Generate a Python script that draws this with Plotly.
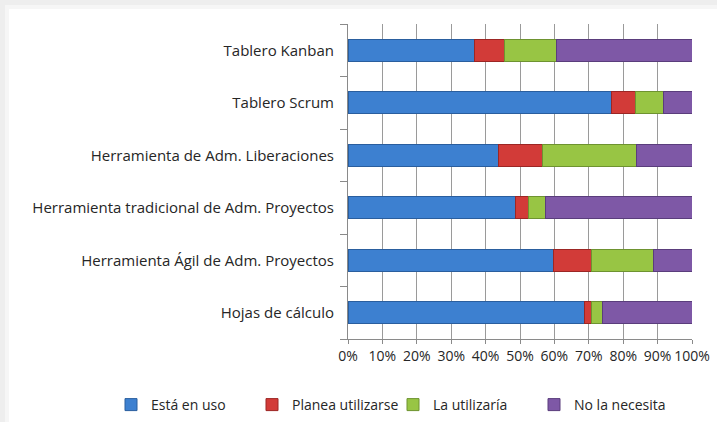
import plotly.graph_objects as go

categories = [
    "Hojas de cálculo",
    "Herramienta Ágil de Adm. Proyectos",
    "Herramienta tradicional de Adm. Proyectos",
    "Herramienta de Adm. Liberaciones",
    "Tablero Scrum",
    "Tablero Kanban",
]
esta_en_uso = [68.7, 59.6, 48.6, 43.8, 76.6, 36.7]
planea_utilizarse = [2.0, 11.1, 4.0, 12.6, 7.0, 8.9]
la_utilizaria = [3.2, 18.1, 4.9, 27.5, 8.0, 15.1]
no_la_necesita = [26.1, 11.2, 42.5, 16.1, 8.4, 39.3]

series_names = ["Está en uso", "Planea utilizarse", "La utilizaría", "No la necesita"]
series_values = [esta_en_uso, planea_utilizarse, la_utilizaria, no_la_necesita]
colors = ["#3D80D0", "#D23B38", "#98C544", "#7E58A6"]
line_colors = ["#2A5E9E", "#9C2624", "#6E9330", "#5A3D7C"]

tick_vals = [0, 10, 20, 30, 40, 50, 60, 70, 80, 90, 100]
tick_text = ["0%", "10%", "20%", "30%", "40%", "50%", "60%", "70%", "80%", "90%", "100%"]

fig = go.Figure()
for name, vals, c, lc in zip(series_names, series_values, colors, line_colors):
    fig.add_trace(go.Bar(
        y=categories, x=vals, name=name, orientation="h",
        marker=dict(color=c, line=dict(color=lc, width=1)),
    ))

W, H = 717, 422
L, R, T, B = 348, 25, 24, 83
pw, ph = W - L - R, H - T - B

def px_x(p):
    return (p - L) / pw

def px_y(p):
    return (H - B - p) / ph

shapes = [
    dict(type="rect", xref="paper", yref="paper", layer="below",
         x0=px_x(0), x1=px_x(9), y0=px_y(H), y1=px_y(0),
         fillcolor="#eeeeee", line_width=0),
    dict(type="rect", xref="paper", yref="paper", layer="below",
         x0=px_x(0), x1=px_x(W), y0=px_y(9), y1=px_y(0),
         fillcolor="#eeeeee", line_width=0),
    dict(type="rect", xref="paper", yref="paper", layer="below",
         x0=px_x(5), x1=px_x(9), y0=px_y(H), y1=px_y(5),
         fillcolor="#f6f6f6", line_width=0),
    dict(type="rect", xref="paper", yref="paper", layer="below",
         x0=px_x(5), x1=px_x(W), y0=px_y(9), y1=px_y(5),
         fillcolor="#f6f6f6", line_width=0),
]

fig.update_layout(
    barmode="stack",
    bargap=0.58,
    width=W, height=H,
    autosize=False,
    margin=dict(l=L, r=R, t=T, b=B, pad=0, autoexpand=False),
    paper_bgcolor="white",
    plot_bgcolor="white",
    font=dict(family="Open Sans", size=15, color="#262626"),
    shapes=shapes,
    showlegend=True,
    legend=dict(
        orientation="h", x=px_x(111), xanchor="left", y=px_y(405), yanchor="middle",
        entrywidth=96, entrywidthmode="pixels",
        font=dict(family="Open Sans", size=14, color="#262626"),
        traceorder="normal",
    ),
    xaxis=dict(
        range=[0, 100], tickmode="array", tickvals=tick_vals, ticktext=tick_text,
        tickfont=dict(size=14), tickangle=0, automargin=False,
        showgrid=True, gridcolor="#9a9a9a", gridwidth=1,
        showline=True, linecolor="#8a8a8a", linewidth=1,
        ticks="outside", ticklen=4, tickcolor="#8a8a8a",
        zeroline=False, fixedrange=True,
    ),
    yaxis=dict(
        categoryorder="array", categoryarray=categories,
        showline=True, linecolor="#8a8a8a", linewidth=1, automargin=False,
        ticks="outside", ticklen=7, tickcolor="#8a8a8a", tickson="boundaries",
        ticklabelstandoff=10,
        showgrid=False, zeroline=False, fixedrange=True,
    ),
)

fig.write_html(
    "out.html",
    config={"displayModeBar": False, "responsive": False},
    post_script=(
        "document.documentElement.style.overflow='hidden';"
        "document.body.style.margin='0';"
        "document.body.style.overflow='hidden';"
    ),
)
